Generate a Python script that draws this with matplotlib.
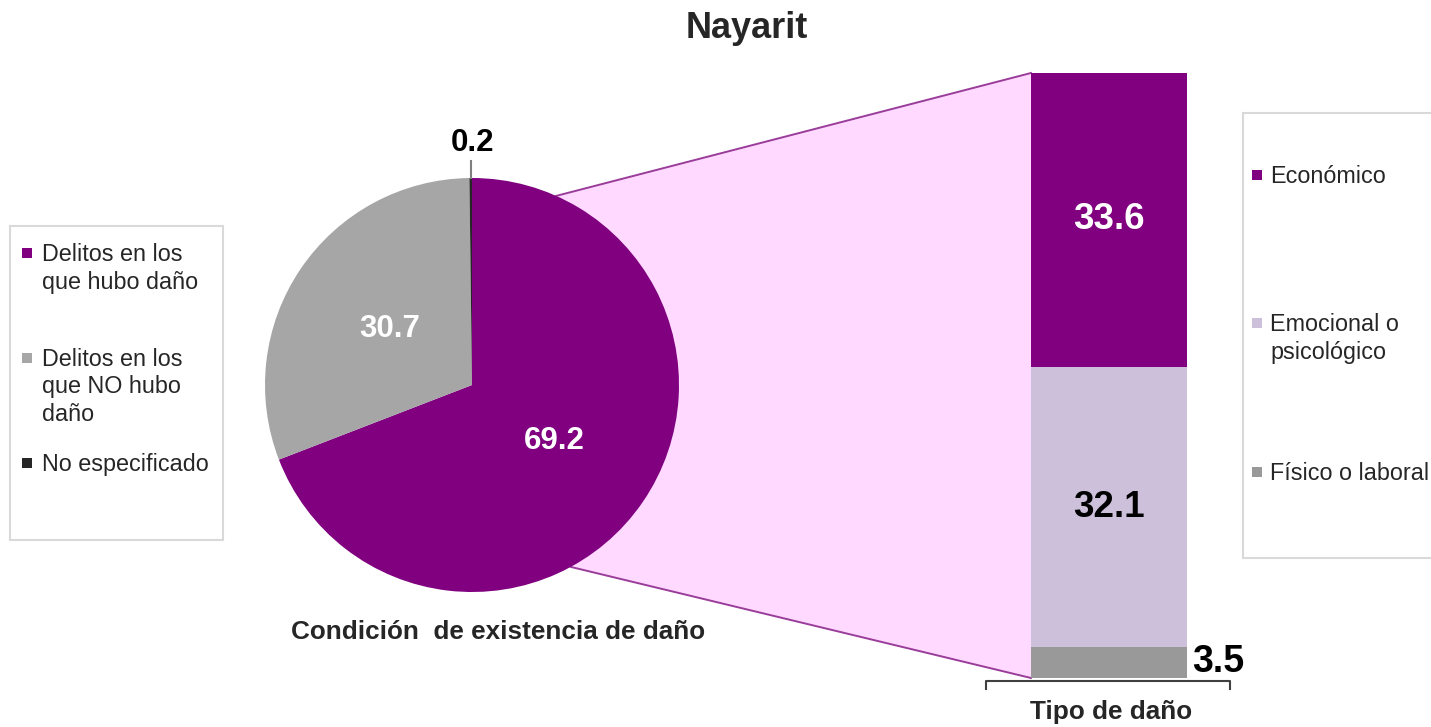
import numpy as np
import matplotlib
matplotlib.use("Agg")
import matplotlib.pyplot as plt
from matplotlib.patches import Rectangle, Polygon

plt.rcParams["font.family"] = ["Liberation Sans", "DejaVu Sans"]

# ------------------------------------------------------------------
# Datos
# ------------------------------------------------------------------
titulo = "Nayarit"

pie_labels = ["Delitos en los\nque hubo daño", "Delitos en los\nque NO hubo\ndaño", "No especificado"]
pie_values = [69.2, 30.7, 0.2]
pie_colors = ["#800080", "#A6A6A6", "#262626"]

bar_labels = ["Económico", "Emocional o\npsicológico", "Físico o laboral"]
bar_values = [33.6, 32.1, 3.5]
bar_colors = ["#800080", "#CCC0DA", "#999999"]

W, H = 1431, 727
TXT = "#262626"


def py(y):
    """Convierte coordenada y de imagen (desde arriba) a datos (desde abajo)."""
    return H - y


fig = plt.figure(figsize=(W / 100, H / 100), dpi=100)
fig.patch.set_facecolor("white")
ax = fig.add_axes([0, 0, 1, 1])

# ------------------------------------------------------------------
# Pastel: condición de existencia de daño
# ------------------------------------------------------------------
cx, cy, r = 472, py(385), 207
wedges, _ = ax.pie(pie_values, colors=pie_colors, startangle=90, counterclock=False,
                   center=(cx, cy), radius=r, wedgeprops=dict(linewidth=0), frame=False)
for w in wedges:
    w.set_zorder(3)

ax.set_xlim(0, W)
ax.set_ylim(0, H)
ax.set_aspect("equal")
ax.axis("off")

# etiquetas del pastel
for w, val in zip(wedges[:2], pie_values[:2]):
    mid = np.deg2rad((w.theta1 + w.theta2) / 2)
    ax.text(cx + 0.48 * r * np.cos(mid), cy + 0.48 * r * np.sin(mid), f"{val:.1f}",
            ha="center", va="center", color="white", fontsize=22.5, fontweight="bold", zorder=5)

mid = np.deg2rad((wedges[2].theta1 + wedges[2].theta2) / 2)
ex, ey = cx + r * np.cos(mid), cy + r * np.sin(mid)
ax.plot([ex, ex], [ey, ey + 17], color="#808080", lw=1.5, zorder=4)
ax.text(ex + 2, ey + 20, f"{pie_values[2]:.1f}", ha="center", va="bottom",
        color="black", fontsize=22.5, fontweight="bold")

ax.text(498, py(632), "Condición  de existencia de daño", ha="center", va="center",
        color=TXT, fontsize=18.8, fontweight="bold")

# ------------------------------------------------------------------
# Barra apilada: tipo de daño
# ------------------------------------------------------------------
bx0, bx1, by_top, by_bot = 1031, 1187, 73, 678
axb = fig.add_axes([bx0 / W, (H - by_bot) / H, (bx1 - bx0) / W, (by_bot - by_top) / H])
total = sum(bar_values)
bottom = total
for val, col in zip(bar_values, bar_colors):
    bottom -= val
    axb.bar(0, val, bottom=bottom, width=1.0, color=col, linewidth=0)
axb.set_xlim(-0.5, 0.5)
axb.set_ylim(0, total)
axb.axis("off")

axb.text(0, total - bar_values[0] / 2, f"{bar_values[0]:.1f}", ha="center", va="center",
         color="white", fontsize=26.5, fontweight="bold")
axb.text(0, bar_values[2] + bar_values[1] / 2, f"{bar_values[1]:.1f}", ha="center", va="center",
         color="black", fontsize=26.5, fontweight="bold")
axb.text(0.53, bar_values[2] / 2 + 0.1, f"{bar_values[2]:.1f}", ha="left", va="center",
         color="black", fontsize=27, fontweight="bold")

# esquinas de la barra en coordenadas del eje principal
to_main = axb.transData + ax.transData.inverted()
top_left = to_main.transform((-0.5, total))
bot_left = to_main.transform((-0.5, 0))

# ------------------------------------------------------------------
# Conexión pastel -> barra
# ------------------------------------------------------------------
a_up, a_dn = np.deg2rad(66), np.deg2rad(-61.5)
p_up = (cx + r * np.cos(a_up), cy + r * np.sin(a_up))
p_dn = (cx + r * np.cos(a_dn), cy + r * np.sin(a_dn))
ax.add_patch(Polygon([(cx, cy), p_up, top_left, bot_left, p_dn], closed=True,
                     facecolor="#FFD9FF", edgecolor="none", zorder=1))
ax.plot([p_up[0], top_left[0]], [p_up[1], top_left[1]], color="#9A3D9A", lw=1.4, zorder=2)
ax.plot([p_dn[0], bot_left[0]], [p_dn[1], bot_left[1]], color="#9A3D9A", lw=1.4, zorder=2)

# corchete bajo la barra
ax.plot([986, 986, 1230, 1230], [py(689), py(681), py(681), py(689)],
        color="#404040", lw=1.5, solid_joinstyle="round")
ax.text(1111, py(712), "Tipo de daño", ha="center", va="center",
        color=TXT, fontsize=18.8, fontweight="bold")

# ------------------------------------------------------------------
# Título
# ------------------------------------------------------------------
ax.text(747, py(28), titulo, ha="center", va="center", color=TXT,
        fontsize=26, fontweight="bold")


# ------------------------------------------------------------------
# Leyendas (dibujadas a mano para alinear el marcador con la 1a línea)
# ------------------------------------------------------------------
def draw_legend(box, labels, colors, mx, tx, centers, pitch, fs=16.8):
    x0, y0, x1, y1 = box
    ax.add_patch(Rectangle((x0, py(y1)), x1 - x0, y1 - y0, facecolor="white",
                           edgecolor="#D9D9D9", lw=1.5, zorder=6, clip_on=False))
    for lab, col, yc in zip(labels, colors, centers):
        ax.add_patch(Rectangle((mx - 5, py(yc) - 5), 10, 10, facecolor=col,
                               edgecolor="none", zorder=7))
        for i, line in enumerate(lab.split("\n")):
            ax.text(tx, py(yc + 8 + i * pitch), line, ha="left", va="baseline",
                    color=TXT, fontsize=fs, zorder=8)


draw_legend((10, 226, 223, 540), pie_labels, pie_colors, 27, 42, [253, 358, 463], 27.5)
draw_legend((1243, 113, 1445, 558), bar_labels, bar_colors, 1257, 1270, [175, 323, 472], 27.5)

fig.savefig("out.png", dpi=100, facecolor="white")
